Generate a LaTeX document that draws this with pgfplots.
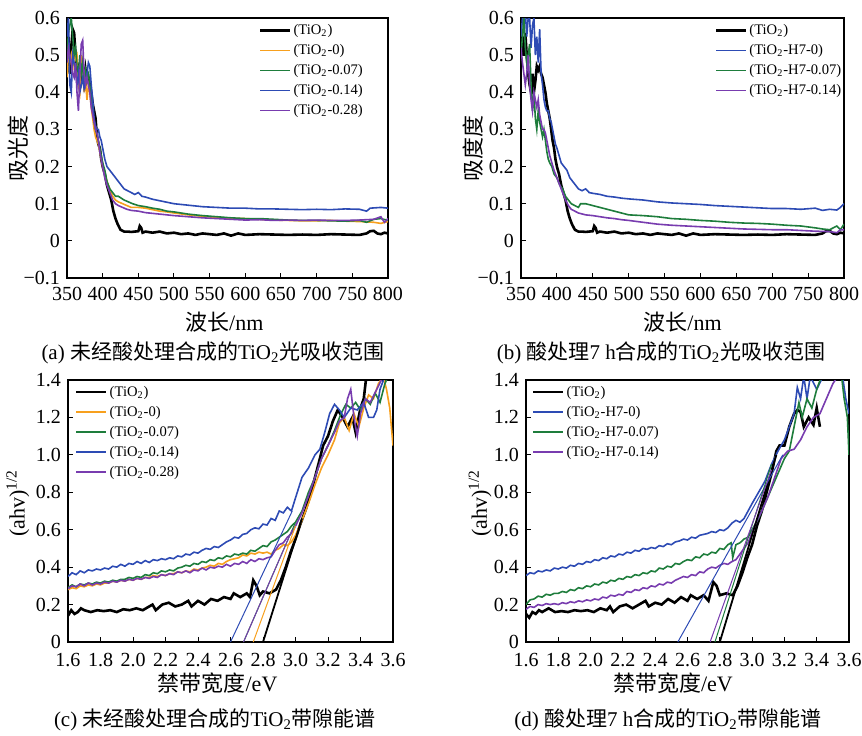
\documentclass[border=0pt]{standalone}
\usepackage{pgfplots}
\pgfplotsset{compat=1.18}
\usepackage{fontspec}
\setmainfont{Liberation Serif}
\newfontfamily\cjk{Noto Sans CJK SC}
\definecolor{cor}{RGB}{247,160,30}
\definecolor{cgr}{RGB}{30,125,60}
\definecolor{cbl}{RGB}{45,75,180}
\definecolor{cpu}{RGB}{120,60,175}
\pgfplotsset{
 panel/.style={scale only axis, tick align=inside, tick pos=left,
  major tick length=2.5pt, axis line style={line width=0.6pt},
  every tick/.style={black, line width=0.5pt},
  tick label style={font=\fontsize{10}{12}\selectfont},
  label style={font=\fontsize{11}{13}\selectfont},
  /pgf/number format/assume math mode=true,
  legend style={draw=none, fill=none, inner sep=0pt, outer sep=0pt, anchor=north west,
   font=\fontsize{7.3}{8}\selectfont, row sep=0pt,
   nodes={inner sep=1pt, text height=6pt, text depth=2pt}},
  legend cell align=left,
  legend image code/.code={\draw[##1] (0pt,0pt) -- (15pt,0pt);},
  every axis plot/.append style={line width=0.8pt},
 },
 pa/.style={panel, xmin=350, xmax=800, ymin=-0.1, ymax=0.6,
  xticklabel style={yshift=-1pt},
  xtick={350,400,450,500,550,600,650,700,750,800},
  xticklabels={350,400,450,500,550,600,650,700,750,800},
  ytick={-0.1,0,0.1,0.2,0.3,0.4,0.5,0.6},
  yticklabels={−0.1,0,0.1,0.2,0.3,0.4,0.5,0.6},
  xlabel={{\cjk 波长}/nm}},
 pc/.style={panel, xmin=1.6, xmax=3.6, ymin=0, ymax=1.4,
  xticklabel style={yshift=-2.2pt},
  xtick={1.6,1.8,2.0,2.2,2.4,2.6,2.8,3.0,3.2,3.4,3.6},
  xticklabels={1.6,1.8,2.0,2.2,2.4,2.6,2.8,3.0,3.2,3.4,3.6},
  ytick={0,0.2,0.4,0.6,0.8,1.0,1.2,1.4},
  yticklabels={0,0.2,0.4,0.6,0.8,1.0,1.2,1.4},
  xlabel={{\cjk 禁带宽度}/eV}, ylabel={(ahv)\textsuperscript{1/2}}},
}
\begin{document}
\begin{tikzpicture}
\useasboundingbox (0,0) rectangle (431pt,367.5pt);
% ---------------- (a)
\begin{axis}[pa, at={(33.5pt,228.5pt)}, anchor=south west, width=160.5pt, height=130pt,
 ylabel={\cjk 吸光度},
 xlabel style={at={(axis description cs:0.49,-0.169)}, anchor=center},
 ylabel style={at={(axis description cs:-0.153,0.5)}, anchor=center},
 legend style={at={(axis description cs:0.598,0.99)}}]
\addplot[black, line width=1.3pt] coordinates {(350,0.48) (352,0.55) (354,0.45) (356,0.52) (358,0.57) (360,0.56) (362,0.5) (364,0.47) (366,0.43) (368,0.48) (370,0.44) (372,0.47) (374,0.42) (376,0.46) (378,0.43) (380,0.44) (382,0.42) (384,0.40) (386,0.37) (388,0.35) (390,0.33) (392,0.28) (394,0.26) (396,0.25) (398,0.22) (400,0.2) (403,0.18) (406,0.15) (409,0.13) (412,0.11) (415,0.08) (418,0.06) (421,0.045) (425,0.03) (430,0.025) (435,0.025) (440,0.024) (445,0.025) (450,0.026) (452,0.04) (454,0.035) (456,0.022) (460,0.025) (470,0.022) (480,0.025) (490,0.02) (500,0.022) (510,0.018) (520,0.02) (530,0.016) (540,0.02) (550,0.018) (560,0.016) (570,0.02) (580,0.014) (590,0.02) (600,0.016) (620,0.018) (640,0.017) (660,0.016) (680,0.017) (700,0.016) (720,0.018) (740,0.017) (760,0.016) (770,0.02) (775,0.026) (780,0.027) (785,0.02) (790,0.018) (795,0.022) (800,0.02)};
\addplot[cor] coordinates {(350,0.44) (352,0.5) (354,0.48) (356,0.5) (358,0.46) (360,0.52) (362,0.49) (364,0.5) (366,0.42) (368,0.4) (370,0.5) (372,0.46) (374,0.4) (376,0.43) (378,0.38) (380,0.42) (382,0.4) (384,0.36) (386,0.33) (388,0.3) (390,0.28) (392,0.27) (394,0.26) (396,0.24) (398,0.22) (400,0.2) (403,0.18) (406,0.16) (410,0.14) (414,0.12) (418,0.11) (422,0.105) (428,0.1) (434,0.095) (440,0.09) (450,0.09) (460,0.088) (470,0.084) (480,0.08) (490,0.078) (500,0.075) (520,0.07) (540,0.066) (560,0.063) (580,0.061) (600,0.06) (620,0.058) (640,0.056) (660,0.055) (680,0.054) (700,0.054) (720,0.055) (740,0.053) (760,0.052) (780,0.05) (790,0.047) (800,0.052)};
\addplot[cgr] coordinates {(350,0.5) (352,0.56) (354,0.58) (356,0.6) (358,0.55) (360,0.5) (362,0.52) (364,0.47) (366,0.45) (368,0.5) (370,0.45) (372,0.48) (374,0.43) (376,0.46) (378,0.44) (380,0.45) (382,0.42) (384,0.39) (386,0.35) (388,0.32) (390,0.3) (392,0.29) (394,0.27) (396,0.25) (398,0.23) (400,0.21) (403,0.19) (406,0.16) (410,0.14) (414,0.13) (418,0.12) (422,0.12) (426,0.115) (430,0.11) (436,0.105) (442,0.1) (450,0.095) (460,0.092) (470,0.088) (480,0.085) (490,0.08) (500,0.078) (520,0.072) (540,0.068) (560,0.065) (580,0.062) (600,0.06) (620,0.06) (640,0.058) (660,0.056) (680,0.055) (700,0.055) (720,0.054) (740,0.053) (760,0.055) (770,0.05) (780,0.058) (790,0.06) (800,0.055)};
\addplot[cbl] coordinates {(350,0.55) (352,0.6) (354,0.42) (356,0.4) (358,0.5) (360,0.48) (362,0.46) (364,0.42) (366,0.45) (368,0.4) (370,0.42) (372,0.44) (374,0.41) (376,0.43) (378,0.45) (380,0.48) (382,0.47) (384,0.42) (386,0.38) (388,0.33) (390,0.31) (392,0.3) (394,0.3) (396,0.28) (398,0.27) (400,0.25) (403,0.22) (406,0.2) (410,0.19) (414,0.18) (418,0.17) (422,0.16) (426,0.15) (430,0.14) (435,0.135) (440,0.13) (445,0.125) (450,0.13) (455,0.12) (460,0.118) (470,0.112) (480,0.108) (490,0.104) (500,0.1) (520,0.096) (540,0.092) (560,0.09) (580,0.088) (600,0.088) (620,0.086) (640,0.086) (660,0.085) (680,0.084) (700,0.085) (720,0.084) (740,0.086) (760,0.085) (770,0.08) (775,0.088) (790,0.09) (800,0.088)};
\addplot[cpu] coordinates {(350,0.48) (352,0.52) (354,0.5) (356,0.48) (358,0.45) (360,0.44) (362,0.48) (364,0.4) (366,0.35) (368,0.45) (370,0.53) (372,0.54) (374,0.45) (376,0.42) (378,0.44) (380,0.42) (382,0.4) (384,0.36) (386,0.34) (388,0.32) (390,0.3) (392,0.29) (394,0.27) (396,0.24) (398,0.22) (400,0.2) (403,0.17) (406,0.15) (410,0.13) (414,0.11) (418,0.1) (422,0.095) (428,0.09) (434,0.085) (440,0.082) (450,0.08) (460,0.076) (470,0.074) (480,0.072) (490,0.07) (500,0.068) (520,0.065) (540,0.062) (560,0.06) (580,0.058) (600,0.056) (620,0.057) (640,0.055) (660,0.056) (680,0.055) (700,0.056) (720,0.055) (740,0.055) (760,0.056) (780,0.058) (790,0.065) (795,0.05) (800,0.06)};
\legend{(TiO\textsubscript{2}),(TiO\textsubscript{2}-0),(TiO\textsubscript{2}-0.07),(TiO\textsubscript{2}-0.14),(TiO\textsubscript{2}-0.28)}
\end{axis}
% ---------------- (b)
\begin{axis}[pa, at={(260.5pt,228.5pt)}, anchor=south west, width=161.5pt, height=130pt,
 ylabel={\cjk 吸度度},
 xlabel style={at={(axis description cs:0.5,-0.169)}, anchor=center},
 ylabel style={at={(axis description cs:-0.149,0.5)}, anchor=center},
 legend style={at={(axis description cs:0.60,0.99)}}]
\addplot[black, line width=1.3pt] coordinates {(350,0.5) (352,0.55) (354,0.5) (356,0.56) (358,0.5) (360,0.45) (362,0.42) (364,0.4) (366,0.45) (368,0.4) (370,0.43) (372,0.47) (374,0.46) (376,0.47) (378,0.45) (380,0.44) (382,0.42) (384,0.40) (386,0.37) (388,0.35) (390,0.33) (392,0.3) (394,0.27) (396,0.25) (398,0.22) (400,0.2) (403,0.18) (406,0.15) (409,0.13) (412,0.11) (415,0.08) (418,0.06) (421,0.045) (425,0.03) (430,0.025) (435,0.025) (440,0.024) (445,0.025) (450,0.026) (452,0.04) (454,0.035) (456,0.022) (460,0.025) (470,0.022) (480,0.025) (490,0.02) (500,0.022) (510,0.018) (520,0.02) (530,0.016) (540,0.02) (550,0.018) (560,0.016) (570,0.02) (580,0.014) (590,0.02) (600,0.016) (620,0.018) (640,0.017) (660,0.016) (680,0.017) (700,0.016) (720,0.018) (740,0.017) (760,0.016) (770,0.02) (775,0.026) (780,0.027) (785,0.02) (790,0.018) (795,0.022) (800,0.02)};
\addplot[cbl] coordinates {(350,0.55) (352,0.6) (354,0.58) (356,0.62) (358,0.55) (360,0.6) (362,0.6) (364,0.52) (366,0.58) (368,0.6) (370,0.5) (372,0.55) (374,0.48) (376,0.57) (378,0.45) (380,0.42) (382,0.38) (384,0.36) (386,0.35) (388,0.35) (390,0.33) (392,0.32) (394,0.3) (396,0.28) (398,0.26) (400,0.25) (403,0.23) (406,0.21) (410,0.2) (414,0.19) (418,0.17) (422,0.16) (426,0.15) (430,0.14) (435,0.135) (440,0.14) (445,0.13) (450,0.128) (460,0.125) (470,0.12) (480,0.118) (490,0.115) (500,0.113) (520,0.11) (540,0.105) (560,0.102) (580,0.1) (600,0.098) (620,0.095) (640,0.093) (660,0.091) (680,0.089) (700,0.087) (720,0.087) (740,0.085) (760,0.088) (770,0.082) (780,0.085) (790,0.083) (795,0.09) (800,0.1)};
\addplot[cgr] coordinates {(350,0.5) (352,0.55) (354,0.6) (356,0.52) (358,0.48) (360,0.5) (362,0.53) (364,0.42) (366,0.35) (368,0.4) (370,0.33) (372,0.3) (374,0.35) (376,0.32) (378,0.3) (380,0.28) (382,0.3) (384,0.27) (386,0.24) (388,0.22) (390,0.21) (393,0.2) (396,0.18) (400,0.17) (404,0.15) (408,0.14) (412,0.12) (416,0.11) (420,0.1) (425,0.095) (430,0.09) (433,0.1) (440,0.1) (450,0.095) (460,0.09) (470,0.085) (480,0.08) (490,0.075) (500,0.07) (520,0.068) (540,0.065) (560,0.06) (580,0.058) (600,0.055) (620,0.053) (640,0.05) (660,0.048) (680,0.047) (700,0.045) (720,0.042) (740,0.04) (760,0.035) (770,0.032) (780,0.03) (785,0.035) (790,0.04) (795,0.03) (800,0.045)};
\addplot[cpu] coordinates {(350,0.52) (352,0.48) (354,0.45) (356,0.42) (358,0.45) (360,0.5) (362,0.42) (364,0.38) (366,0.35) (368,0.4) (370,0.38) (372,0.36) (374,0.38) (376,0.34) (378,0.32) (380,0.3) (382,0.3) (384,0.29) (386,0.27) (388,0.25) (390,0.23) (393,0.21) (396,0.19) (400,0.17) (404,0.15) (408,0.13) (412,0.11) (416,0.095) (420,0.085) (425,0.08) (430,0.075) (440,0.07) (450,0.068) (460,0.065) (470,0.062) (480,0.06) (490,0.057) (500,0.055) (520,0.05) (540,0.045) (560,0.042) (580,0.04) (600,0.038) (620,0.036) (640,0.034) (660,0.032) (680,0.031) (700,0.03) (720,0.03) (740,0.028) (760,0.026) (780,0.025) (790,0.022) (795,0.03) (800,0.03)};
\legend{(TiO\textsubscript{2}),(TiO\textsubscript{2}-H7-0),(TiO\textsubscript{2}-H7-0.07),(TiO\textsubscript{2}-H7-0.14)}
\end{axis}
% ---------------- (c)
\begin{axis}[pc, at={(34pt,46.5pt)}, anchor=south west, width=162.5pt, height=131pt,
 xlabel style={at={(axis description cs:0.46,-0.156)}, anchor=center},
 ylabel style={at={(axis description cs:-0.154,0.53)}, anchor=center},
 legend style={at={(axis description cs:0.022,0.992)}}]
\addplot[black, line width=1.3pt] coordinates {(1.60,0.14) (1.62,0.17) (1.64,0.15) (1.66,0.16) (1.68,0.18) (1.70,0.17) (1.74,0.16) (1.78,0.17) (1.82,0.165) (1.86,0.17) (1.90,0.16) (1.94,0.175) (1.98,0.17) (2.02,0.18) (2.06,0.17) (2.10,0.19) (2.12,0.2) (2.14,0.17) (2.18,0.2) (2.22,0.21) (2.26,0.19) (2.30,0.2) (2.34,0.22) (2.36,0.19) (2.40,0.22) (2.44,0.2) (2.48,0.23) (2.52,0.22) (2.56,0.24) (2.60,0.23) (2.62,0.26) (2.66,0.24) (2.70,0.26) (2.72,0.24) (2.74,0.33) (2.76,0.3) (2.78,0.25) (2.80,0.27) (2.84,0.26) (2.88,0.28) (2.91,0.33) (2.94,0.4) (2.97,0.48) (3.00,0.55) (3.03,0.63) (3.06,0.7) (3.09,0.78) (3.12,0.88) (3.15,0.98) (3.17,1.05) (3.20,1.1) (3.23,1.18) (3.26,1.24) (3.29,1.2) (3.32,1.15) (3.35,1.2) (3.37,1.12) (3.40,1.25) (3.42,1.3) (3.44,1.45)};
\addplot[cor] coordinates {(1.600,0.28) (1.625,0.29) (1.650,0.285) (1.675,0.30) (1.700,0.295) (1.725,0.305) (1.750,0.30) (1.775,0.31) (1.800,0.305) (1.825,0.315) (1.850,0.315) (1.875,0.325) (1.900,0.32) (1.925,0.33) (1.950,0.325) (1.975,0.335) (2.000,0.33) (2.025,0.34) (2.050,0.335) (2.075,0.345) (2.100,0.345) (2.125,0.355) (2.150,0.35) (2.175,0.36) (2.200,0.355) (2.225,0.365) (2.250,0.365) (2.275,0.375) (2.300,0.37) (2.325,0.38) (2.350,0.375) (2.375,0.39) (2.400,0.385) (2.425,0.395) (2.450,0.40) (2.475,0.41) (2.500,0.405) (2.525,0.42) (2.550,0.415) (2.575,0.43) (2.600,0.44) (2.625,0.445) (2.650,0.45) (2.675,0.465) (2.700,0.46) (2.725,0.475) (2.750,0.47) (2.775,0.48) (2.800,0.475) (2.825,0.48) (2.850,0.47) (2.875,0.49) (2.900,0.50) (2.925,0.52) (2.950,0.515) (2.975,0.535) (3.00,0.57) (3.04,0.65) (3.08,0.74) (3.12,0.84) (3.16,0.93) (3.20,1.0) (3.24,1.08) (3.27,1.17) (3.30,1.2) (3.33,1.13) (3.36,1.22) (3.39,1.15) (3.42,1.25) (3.45,1.32) (3.48,1.3) (3.51,1.38) (3.54,1.42) (3.56,1.35) (3.58,1.25) (3.60,1.05)};
\addplot[cgr] coordinates {(1.600,0.29) (1.625,0.305) (1.650,0.295) (1.675,0.31) (1.700,0.305) (1.725,0.315) (1.750,0.31) (1.775,0.32) (1.800,0.315) (1.825,0.325) (1.850,0.32) (1.875,0.33) (1.900,0.325) (1.925,0.335) (1.950,0.335) (1.975,0.345) (2.000,0.34) (2.025,0.35) (2.050,0.345) (2.075,0.36) (2.100,0.355) (2.125,0.37) (2.150,0.365) (2.175,0.38) (2.200,0.375) (2.225,0.385) (2.250,0.38) (2.275,0.395) (2.300,0.40) (2.325,0.41) (2.350,0.405) (2.375,0.42) (2.400,0.415) (2.425,0.43) (2.450,0.425) (2.475,0.44) (2.500,0.435) (2.525,0.45) (2.550,0.445) (2.575,0.46) (2.600,0.455) (2.625,0.47) (2.650,0.465) (2.675,0.475) (2.700,0.47) (2.725,0.49) (2.750,0.485) (2.775,0.50) (2.800,0.515) (2.825,0.51) (2.850,0.535) (2.875,0.545) (2.900,0.56) (2.925,0.575) (2.950,0.59) (2.975,0.62) (3.00,0.64) (3.04,0.7) (3.08,0.8) (3.12,0.88) (3.16,0.98) (3.20,1.05) (3.24,1.13) (3.28,1.22) (3.31,1.27) (3.34,1.25) (3.37,1.28) (3.40,1.24) (3.43,1.3) (3.46,1.27) (3.49,1.33) (3.52,1.28) (3.55,1.38) (3.57,1.42)};
\addplot[cbl] coordinates {(1.600,0.35) (1.625,0.37) (1.650,0.36) (1.675,0.38) (1.700,0.37) (1.725,0.385) (1.750,0.38) (1.775,0.39) (1.800,0.385) (1.825,0.395) (1.850,0.39) (1.875,0.405) (1.900,0.40) (1.925,0.415) (1.950,0.405) (1.975,0.42) (2.000,0.415) (2.025,0.43) (2.050,0.42) (2.075,0.435) (2.100,0.425) (2.125,0.44) (2.150,0.435) (2.175,0.445) (2.200,0.44) (2.225,0.45) (2.250,0.445) (2.275,0.46) (2.300,0.455) (2.325,0.47) (2.350,0.465) (2.375,0.48) (2.400,0.475) (2.425,0.49) (2.450,0.50) (2.475,0.495) (2.500,0.51) (2.525,0.505) (2.550,0.52) (2.575,0.535) (2.600,0.545) (2.625,0.56) (2.650,0.555) (2.675,0.575) (2.700,0.58) (2.725,0.6) (2.750,0.61) (2.775,0.605) (2.800,0.63) (2.825,0.625) (2.850,0.66) (2.875,0.65) (2.900,0.7) (2.925,0.69) (2.950,0.72) (2.975,0.70) (3.00,0.77) (3.04,0.88) (3.08,0.93) (3.12,1.0) (3.15,1.03) (3.18,1.12) (3.21,1.22) (3.24,1.27) (3.27,1.24) (3.30,1.2) (3.34,1.25) (3.38,1.24) (3.42,1.28) (3.45,1.2) (3.48,1.2) (3.50,1.24) (3.52,1.35) (3.55,1.42)};
\addplot[cpu] coordinates {(1.600,0.285) (1.625,0.30) (1.650,0.295) (1.675,0.31) (1.700,0.30) (1.725,0.315) (1.750,0.305) (1.775,0.315) (1.800,0.31) (1.825,0.32) (1.850,0.315) (1.875,0.325) (1.900,0.32) (1.925,0.33) (1.950,0.325) (1.975,0.335) (2.000,0.33) (2.025,0.34) (2.050,0.335) (2.075,0.345) (2.100,0.34) (2.125,0.35) (2.150,0.345) (2.175,0.36) (2.200,0.355) (2.225,0.365) (2.250,0.36) (2.275,0.375) (2.300,0.37) (2.325,0.38) (2.350,0.37) (2.375,0.385) (2.400,0.38) (2.425,0.395) (2.450,0.385) (2.475,0.40) (2.500,0.395) (2.525,0.405) (2.550,0.40) (2.575,0.415) (2.600,0.405) (2.625,0.42) (2.650,0.415) (2.675,0.43) (2.700,0.42) (2.725,0.44) (2.750,0.43) (2.775,0.445) (2.800,0.44) (2.825,0.45) (2.850,0.455) (2.875,0.49) (2.900,0.52) (2.925,0.53) (2.950,0.56) (2.975,0.58) (3.00,0.62) (3.04,0.69) (3.08,0.78) (3.12,0.88) (3.16,0.98) (3.20,1.05) (3.24,1.12) (3.27,1.18) (3.30,1.2) (3.32,1.3) (3.34,1.35) (3.36,1.2) (3.38,1.1) (3.40,1.22) (3.43,1.3) (3.46,1.28) (3.50,1.35) (3.54,1.42)};
\legend{(TiO\textsubscript{2}),(TiO\textsubscript{2}-0),(TiO\textsubscript{2}-0.07),(TiO\textsubscript{2}-0.14),(TiO\textsubscript{2}-0.28)}
\addplot[black, line width=0.9pt, forget plot] coordinates {(2.80,0) (3.04,0.66)};
\addplot[cor, line width=0.5pt, forget plot] coordinates {(2.74,0) (3.0,0.62)};
\addplot[cgr, line width=0.5pt, forget plot] coordinates {(2.68,0) (3.0,0.64)};
\addplot[cpu, line width=0.5pt, forget plot] coordinates {(2.68,0) (2.98,0.6)};
\addplot[cbl, line width=0.5pt, forget plot] coordinates {(2.60,0) (2.98,0.7)};
\end{axis}
% ---------------- (d)
\begin{axis}[pc, at={(263pt,46.5pt)}, anchor=south west, width=161.5pt, height=131pt,
 xlabel style={at={(axis description cs:0.455,-0.156)}, anchor=center},
 ylabel style={at={(axis description cs:-0.142,0.53)}, anchor=center},
 legend style={at={(axis description cs:0.019,0.992)}}]
\addplot[black, line width=1.3pt] coordinates {(1.60,0.15) (1.62,0.13) (1.64,0.16) (1.66,0.15) (1.68,0.17) (1.70,0.16) (1.74,0.18) (1.78,0.16) (1.82,0.165) (1.86,0.16) (1.90,0.17) (1.94,0.165) (1.98,0.17) (2.02,0.16) (2.06,0.18) (2.10,0.17) (2.12,0.19) (2.14,0.16) (2.18,0.19) (2.22,0.2) (2.26,0.18) (2.30,0.2) (2.34,0.22) (2.36,0.19) (2.40,0.21) (2.44,0.2) (2.48,0.23) (2.52,0.21) (2.56,0.24) (2.60,0.22) (2.62,0.25) (2.66,0.23) (2.70,0.25) (2.73,0.22) (2.76,0.32) (2.78,0.3) (2.80,0.25) (2.84,0.26) (2.88,0.25) (2.91,0.3) (2.94,0.37) (2.97,0.45) (3.00,0.52) (3.03,0.62) (3.06,0.7) (3.09,0.8) (3.12,0.9) (3.15,1.02) (3.17,1.05) (3.20,1.05) (3.23,1.15) (3.26,1.22) (3.28,1.24) (3.30,1.23) (3.32,1.15) (3.35,1.2) (3.38,1.16) (3.40,1.25) (3.42,1.15)};
\addplot[cbl] coordinates {(1.600,0.355) (1.625,0.37) (1.650,0.365) (1.675,0.38) (1.700,0.375) (1.725,0.385) (1.750,0.38) (1.775,0.395) (1.800,0.39) (1.825,0.40) (1.850,0.395) (1.875,0.41) (1.900,0.405) (1.925,0.42) (1.950,0.415) (1.975,0.43) (2.000,0.425) (2.025,0.44) (2.050,0.435) (2.075,0.45) (2.100,0.445) (2.125,0.46) (2.150,0.455) (2.175,0.47) (2.200,0.465) (2.225,0.48) (2.250,0.475) (2.275,0.49) (2.300,0.485) (2.325,0.50) (2.350,0.495) (2.375,0.505) (2.400,0.50) (2.425,0.515) (2.450,0.51) (2.475,0.525) (2.500,0.52) (2.525,0.535) (2.550,0.54) (2.575,0.55) (2.600,0.545) (2.625,0.56) (2.650,0.555) (2.675,0.57) (2.700,0.575) (2.725,0.58) (2.750,0.59) (2.775,0.585) (2.800,0.60) (2.825,0.595) (2.850,0.61) (2.875,0.635) (2.900,0.65) (2.925,0.64) (2.950,0.66) (2.975,0.70) (3.00,0.74) (3.04,0.8) (3.08,0.86) (3.12,0.95) (3.16,1.02) (3.18,1.05) (3.20,1.08) (3.23,1.15) (3.26,1.22) (3.28,1.36) (3.30,1.3) (3.32,1.42) (3.34,1.3) (3.36,1.42) (3.40,1.35) (3.44,1.42) (3.50,1.45) (3.56,1.42) (3.58,1.3) (3.60,1.22)};
\addplot[cgr] coordinates {(1.600,0.20) (1.625,0.225) (1.650,0.23) (1.675,0.245) (1.700,0.24) (1.725,0.255) (1.750,0.25) (1.775,0.26) (1.800,0.26) (1.825,0.27) (1.850,0.265) (1.875,0.28) (1.900,0.275) (1.925,0.29) (1.950,0.285) (1.975,0.30) (2.000,0.295) (2.025,0.31) (2.050,0.305) (2.075,0.32) (2.100,0.315) (2.125,0.33) (2.150,0.325) (2.175,0.34) (2.200,0.335) (2.225,0.35) (2.250,0.345) (2.275,0.36) (2.300,0.355) (2.325,0.37) (2.350,0.365) (2.375,0.38) (2.400,0.375) (2.425,0.395) (2.450,0.39) (2.475,0.405) (2.500,0.40) (2.525,0.42) (2.550,0.415) (2.575,0.43) (2.600,0.44) (2.625,0.435) (2.650,0.455) (2.675,0.45) (2.700,0.47) (2.725,0.465) (2.750,0.48) (2.775,0.475) (2.800,0.50) (2.825,0.495) (2.850,0.52) (2.870,0.53) (2.880,0.45) (2.900,0.52) (2.925,0.53) (2.950,0.55) (2.975,0.56) (3.00,0.6) (3.04,0.66) (3.08,0.74) (3.12,0.82) (3.16,0.9) (3.20,0.98) (3.23,1.02) (3.26,1.15) (3.29,1.28) (3.31,1.2) (3.34,1.3) (3.37,1.25) (3.40,1.35) (3.43,1.42) (3.50,1.42) (3.55,1.45) (3.57,1.3) (3.59,1.2) (3.60,1.0)};
\addplot[cpu] coordinates {(1.600,0.175) (1.625,0.19) (1.650,0.185) (1.675,0.20) (1.700,0.195) (1.725,0.205) (1.750,0.20) (1.775,0.205) (1.800,0.20) (1.825,0.21) (1.850,0.205) (1.875,0.215) (1.900,0.21) (1.925,0.22) (1.950,0.215) (1.975,0.225) (2.000,0.22) (2.025,0.23) (2.050,0.225) (2.075,0.24) (2.100,0.235) (2.125,0.25) (2.150,0.245) (2.175,0.255) (2.200,0.25) (2.225,0.27) (2.250,0.265) (2.275,0.28) (2.300,0.275) (2.325,0.29) (2.350,0.285) (2.375,0.30) (2.400,0.295) (2.425,0.31) (2.450,0.305) (2.475,0.32) (2.500,0.315) (2.525,0.33) (2.550,0.34) (2.575,0.35) (2.600,0.345) (2.625,0.36) (2.650,0.355) (2.675,0.375) (2.700,0.37) (2.725,0.39) (2.750,0.40) (2.775,0.395) (2.800,0.41) (2.825,0.42) (2.850,0.415) (2.875,0.43) (2.900,0.44) (2.925,0.47) (2.950,0.50) (2.975,0.53) (3.02,0.63) (3.06,0.7) (3.10,0.78) (3.14,0.88) (3.18,0.98) (3.22,1.02) (3.26,1.03) (3.30,1.08) (3.34,1.15) (3.38,1.2) (3.42,1.22) (3.46,1.3) (3.50,1.38) (3.53,1.42)};
\legend{(TiO\textsubscript{2}),(TiO\textsubscript{2}-H7-0),(TiO\textsubscript{2}-H7-0.07),(TiO\textsubscript{2}-H7-0.14)}
\addplot[black, line width=0.9pt, forget plot] coordinates {(2.80,0) (3.15,1.0)};
\addplot[cbl, line width=0.5pt, forget plot] coordinates {(2.54,0) (3.19,1.0)};
\addplot[cgr, line width=0.5pt, forget plot] coordinates {(2.77,0) (3.12,0.95)};
\addplot[cpu, line width=0.5pt, forget plot] coordinates {(2.74,0) (3.12,0.92)};
\end{axis}
% captions
\node[font=\fontsize{10.5}{12}\selectfont] at (106.5pt,191pt) {(a) {\cjk 未经酸处理合成的}TiO\textsubscript{2}{\cjk 光吸收范围}};
\node[font=\fontsize{10.5}{12}\selectfont] at (330.5pt,191pt) {(b) {\cjk 酸处理}7 h{\cjk 合成的}TiO\textsubscript{2}{\cjk 光吸收范围}};
\node[font=\fontsize{10.5}{12}\selectfont] at (107.5pt,7.5pt) {(c) {\cjk 未经酸处理合成的}TiO\textsubscript{2}{\cjk 带隙能谱}};
\node[font=\fontsize{10.5}{12}\selectfont] at (334pt,7.5pt) {(d) {\cjk 酸处理}7 h{\cjk 合成的}TiO\textsubscript{2}{\cjk 带隙能谱}};
\end{tikzpicture}
\end{document}
